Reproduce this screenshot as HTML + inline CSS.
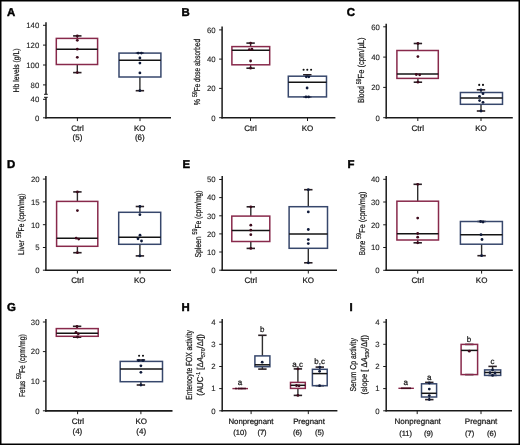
<!DOCTYPE html>
<html><head><meta charset="utf-8"><style>
html,body{margin:0;padding:0;background:#fff;}
svg{display:block;font-family:"Liberation Sans", sans-serif;will-change:transform;text-rendering:geometricPrecision;}
text{stroke:#161616;stroke-width:0.22px;}
</style></head><body>
<svg width="520" height="445" viewBox="0 0 520 445">
<rect width="520" height="445" fill="#fff"/>
<text x="7.1" y="16.1" font-size="11.4" text-anchor="start" font-weight="bold" fill="#000" style="stroke:#000;stroke-width:0.45px">A</text>
<line x1="46.0" y1="22.3" x2="46.0" y2="94.3" stroke="#1a1a1a" stroke-width="1.5"/>
<line x1="46.0" y1="97.3" x2="46.0" y2="118.55" stroke="#1a1a1a" stroke-width="1.5"/>
<line x1="44.0" y1="94.3" x2="47.8" y2="94.3" stroke="#1a1a1a" stroke-width="1.0"/>
<line x1="44.0" y1="97.3" x2="47.8" y2="97.3" stroke="#1a1a1a" stroke-width="1.0"/>
<line x1="45.25" y1="117.8" x2="171" y2="117.8" stroke="#1a1a1a" stroke-width="1.6"/>
<line x1="43.0" y1="25.3" x2="46.0" y2="25.3" stroke="#1a1a1a" stroke-width="1.0"/>
<text transform="translate(39.30,28.10)" font-size="7.8" text-anchor="end" fill="#1e1e1e" style="stroke-width:0.1px">140</text>
<line x1="43.0" y1="45.1" x2="46.0" y2="45.1" stroke="#1a1a1a" stroke-width="1.0"/>
<text transform="translate(39.30,47.90)" font-size="7.8" text-anchor="end" fill="#1e1e1e" style="stroke-width:0.1px">120</text>
<line x1="43.0" y1="65.0" x2="46.0" y2="65.0" stroke="#1a1a1a" stroke-width="1.0"/>
<text transform="translate(39.30,67.80)" font-size="7.8" text-anchor="end" fill="#1e1e1e" style="stroke-width:0.1px">100</text>
<line x1="43.0" y1="84.9" x2="46.0" y2="84.9" stroke="#1a1a1a" stroke-width="1.0"/>
<text transform="translate(39.30,87.70)" font-size="7.8" text-anchor="end" fill="#1e1e1e" style="stroke-width:0.1px">80</text>
<line x1="43.0" y1="99.3" x2="46.0" y2="99.3" stroke="#1a1a1a" stroke-width="1.0"/>
<text transform="translate(39.30,102.10)" font-size="7.8" text-anchor="end" fill="#1e1e1e" style="stroke-width:0.1px">40</text>
<line x1="43.0" y1="117.8" x2="46.0" y2="117.8" stroke="#1a1a1a" stroke-width="1.0"/>
<text transform="translate(39.30,120.60)" font-size="7.8" text-anchor="end" fill="#1e1e1e" style="stroke-width:0.1px">0</text>
<line x1="77.4" y1="117.8" x2="77.4" y2="121.1" stroke="#1a1a1a" stroke-width="1.0"/>
<line x1="140" y1="117.8" x2="140" y2="121.1" stroke="#1a1a1a" stroke-width="1.0"/>
<text transform="translate(19.0,70.45) rotate(-90)" font-size="8.3" text-anchor="middle" fill="#161616" textLength="44.0" lengthAdjust="spacingAndGlyphs">Hb levels (g/L)</text>
<line x1="77.3" y1="35.9" x2="77.3" y2="38.4" stroke="#2e2e2e" stroke-width="1.4"/>
<line x1="77.3" y1="64.5" x2="77.3" y2="72.6" stroke="#2e2e2e" stroke-width="1.4"/>
<line x1="73.1" y1="35.9" x2="81.5" y2="35.9" stroke="#2a2025" stroke-width="1.6"/>
<line x1="73.1" y1="72.6" x2="81.5" y2="72.6" stroke="#2a2025" stroke-width="1.6"/>
<rect x="56.3" y="38.4" width="41.3" height="26.1" fill="none" stroke="#88294b" stroke-width="1.5"/>
<line x1="56.3" y1="49.2" x2="97.6" y2="49.2" stroke="#141414" stroke-width="1.5"/>
<circle cx="77.3" cy="35.9" r="1.4" fill="#3e0a1c"/>
<circle cx="77.3" cy="40.3" r="1.4" fill="#3e0a1c"/>
<circle cx="77.3" cy="49.2" r="1.4" fill="#3e0a1c"/>
<circle cx="77.3" cy="57.3" r="1.4" fill="#3e0a1c"/>
<circle cx="77.3" cy="72.6" r="1.4" fill="#3e0a1c"/>
<line x1="139.9" y1="53.1" x2="139.9" y2="53.1" stroke="#2e2e2e" stroke-width="1.4"/>
<line x1="139.9" y1="77.0" x2="139.9" y2="90.7" stroke="#2e2e2e" stroke-width="1.4"/>
<line x1="135.70000000000002" y1="53.1" x2="144.1" y2="53.1" stroke="#2a2025" stroke-width="1.6"/>
<line x1="135.70000000000002" y1="90.7" x2="144.1" y2="90.7" stroke="#2a2025" stroke-width="1.6"/>
<rect x="119.0" y="53.1" width="41.900000000000006" height="23.9" fill="none" stroke="#37476c" stroke-width="1.5"/>
<line x1="119.0" y1="60.3" x2="160.9" y2="60.3" stroke="#141414" stroke-width="1.5"/>
<circle cx="138.2" cy="53.1" r="1.4" fill="#0f1a3a"/>
<circle cx="141.4" cy="53.1" r="1.4" fill="#0f1a3a"/>
<circle cx="139.9" cy="58" r="1.4" fill="#0f1a3a"/>
<circle cx="139.9" cy="63.1" r="1.4" fill="#0f1a3a"/>
<circle cx="139.9" cy="72.9" r="1.4" fill="#0f1a3a"/>
<circle cx="139.9" cy="90.7" r="1.4" fill="#0f1a3a"/>
<text x="77.5" y="131.3" font-size="8" text-anchor="middle" font-weight="normal" fill="#161616" >Ctrl</text>
<text x="77.5" y="140.3" font-size="8" text-anchor="middle" font-weight="normal" fill="#161616" >(5)</text>
<text x="139.8" y="131.3" font-size="8" text-anchor="middle" font-weight="normal" fill="#161616" >KO</text>
<text x="139.8" y="140.3" font-size="8" text-anchor="middle" font-weight="normal" fill="#161616" >(6)</text>
<text x="181.6" y="16.3" font-size="11.4" text-anchor="start" font-weight="bold" fill="#000" style="stroke:#000;stroke-width:0.45px">B</text>
<line x1="222.1" y1="26.5" x2="222.1" y2="118.45" stroke="#1a1a1a" stroke-width="1.5"/>
<line x1="221.35" y1="117.7" x2="335.4" y2="117.7" stroke="#1a1a1a" stroke-width="1.6"/>
<line x1="219.1" y1="29.9" x2="222.1" y2="29.9" stroke="#1a1a1a" stroke-width="1.0"/>
<text transform="translate(215.60,32.70)" font-size="7.8" text-anchor="end" fill="#1e1e1e" style="stroke-width:0.1px">60</text>
<line x1="219.1" y1="59.1" x2="222.1" y2="59.1" stroke="#1a1a1a" stroke-width="1.0"/>
<text transform="translate(215.60,61.90)" font-size="7.8" text-anchor="end" fill="#1e1e1e" style="stroke-width:0.1px">40</text>
<line x1="219.1" y1="88.4" x2="222.1" y2="88.4" stroke="#1a1a1a" stroke-width="1.0"/>
<text transform="translate(215.60,91.20)" font-size="7.8" text-anchor="end" fill="#1e1e1e" style="stroke-width:0.1px">20</text>
<line x1="219.1" y1="117.7" x2="222.1" y2="117.7" stroke="#1a1a1a" stroke-width="1.0"/>
<text transform="translate(215.60,120.50)" font-size="7.8" text-anchor="end" fill="#1e1e1e" style="stroke-width:0.1px">0</text>
<line x1="250.5" y1="117.7" x2="250.5" y2="121.0" stroke="#1a1a1a" stroke-width="1.0"/>
<line x1="307.5" y1="117.7" x2="307.5" y2="121.0" stroke="#1a1a1a" stroke-width="1.0"/>
<text transform="translate(200.4,105.2) rotate(-90)" font-size="8.6" text-anchor="start" fill="#161616"><tspan textLength="8.1" lengthAdjust="spacingAndGlyphs">% </tspan><tspan font-size="6.8" dy="-3.3" textLength="5.8" lengthAdjust="spacingAndGlyphs">59</tspan><tspan dy="3.3" textLength="52.3" lengthAdjust="spacingAndGlyphs">Fe dose absorbed</tspan></text>
<line x1="250.6" y1="43.1" x2="250.6" y2="46.6" stroke="#2e2e2e" stroke-width="1.4"/>
<line x1="250.6" y1="64.8" x2="250.6" y2="68.2" stroke="#2e2e2e" stroke-width="1.4"/>
<line x1="246.4" y1="43.1" x2="254.79999999999998" y2="43.1" stroke="#2a2025" stroke-width="1.6"/>
<line x1="246.4" y1="68.2" x2="254.79999999999998" y2="68.2" stroke="#2a2025" stroke-width="1.6"/>
<rect x="231.9" y="46.6" width="37.79999999999998" height="18.199999999999996" fill="none" stroke="#88294b" stroke-width="1.5"/>
<line x1="231.9" y1="50.2" x2="269.7" y2="50.2" stroke="#141414" stroke-width="1.5"/>
<circle cx="250.6" cy="43.1" r="1.4" fill="#3e0a1c"/>
<circle cx="249.3" cy="49.7" r="1.4" fill="#3e0a1c"/>
<circle cx="251.9" cy="49.2" r="1.4" fill="#3e0a1c"/>
<circle cx="250.6" cy="61" r="1.4" fill="#3e0a1c"/>
<circle cx="250.6" cy="68.2" r="1.4" fill="#3e0a1c"/>
<line x1="307.3" y1="74.8" x2="307.3" y2="76.2" stroke="#2e2e2e" stroke-width="1.4"/>
<line x1="307.3" y1="96.9" x2="307.3" y2="96.9" stroke="#2e2e2e" stroke-width="1.4"/>
<line x1="303.1" y1="74.8" x2="311.5" y2="74.8" stroke="#2a2025" stroke-width="1.6"/>
<line x1="303.1" y1="96.9" x2="311.5" y2="96.9" stroke="#2a2025" stroke-width="1.6"/>
<rect x="288.3" y="76.2" width="38.19999999999999" height="20.700000000000003" fill="none" stroke="#37476c" stroke-width="1.5"/>
<line x1="288.3" y1="82.3" x2="326.5" y2="82.3" stroke="#141414" stroke-width="1.5"/>
<circle cx="306.3" cy="76.8" r="1.4" fill="#0f1a3a"/>
<circle cx="308.8" cy="76.8" r="1.4" fill="#0f1a3a"/>
<circle cx="307.1" cy="88" r="1.4" fill="#0f1a3a"/>
<circle cx="306" cy="96.9" r="1.4" fill="#0f1a3a"/>
<circle cx="308.6" cy="96.9" r="1.4" fill="#0f1a3a"/>
<circle cx="303.6" cy="69.7" r="1.05" fill="#111"/>
<circle cx="307.3" cy="69.7" r="1.05" fill="#111"/>
<circle cx="311.1" cy="69.7" r="1.05" fill="#111"/>
<text x="250.5" y="131.3" font-size="8" text-anchor="middle" font-weight="normal" fill="#161616" >Ctrl</text>
<text x="307.5" y="131.3" font-size="8" text-anchor="middle" font-weight="normal" fill="#161616" >KO</text>
<text x="346.8" y="16.3" font-size="11.4" text-anchor="start" font-weight="bold" fill="#000" style="stroke:#000;stroke-width:0.45px">C</text>
<line x1="386.2" y1="23.8" x2="386.2" y2="118.45" stroke="#1a1a1a" stroke-width="1.5"/>
<line x1="385.45" y1="117.7" x2="512.8" y2="117.7" stroke="#1a1a1a" stroke-width="1.6"/>
<line x1="383.2" y1="26.8" x2="386.2" y2="26.8" stroke="#1a1a1a" stroke-width="1.0"/>
<text transform="translate(379.85,29.60)" font-size="7.8" text-anchor="end" fill="#1e1e1e" style="stroke-width:0.1px">60</text>
<line x1="383.2" y1="57.1" x2="386.2" y2="57.1" stroke="#1a1a1a" stroke-width="1.0"/>
<text transform="translate(379.85,59.90)" font-size="7.8" text-anchor="end" fill="#1e1e1e" style="stroke-width:0.1px">40</text>
<line x1="383.2" y1="87.4" x2="386.2" y2="87.4" stroke="#1a1a1a" stroke-width="1.0"/>
<text transform="translate(379.85,90.20)" font-size="7.8" text-anchor="end" fill="#1e1e1e" style="stroke-width:0.1px">20</text>
<line x1="383.2" y1="117.7" x2="386.2" y2="117.7" stroke="#1a1a1a" stroke-width="1.0"/>
<text transform="translate(379.85,120.50)" font-size="7.8" text-anchor="end" fill="#1e1e1e" style="stroke-width:0.1px">0</text>
<line x1="417.8" y1="117.7" x2="417.8" y2="121.0" stroke="#1a1a1a" stroke-width="1.0"/>
<line x1="481" y1="117.7" x2="481" y2="121.0" stroke="#1a1a1a" stroke-width="1.0"/>
<text transform="translate(364.2,103.0) rotate(-90)" font-size="8.8" text-anchor="start" fill="#161616"><tspan textLength="18.7" lengthAdjust="spacingAndGlyphs">Blood </tspan><tspan font-size="6.8" dy="-3.3" textLength="5.8" lengthAdjust="spacingAndGlyphs">59</tspan><tspan dy="3.3" textLength="41.0" lengthAdjust="spacingAndGlyphs">Fe (cpm/µL)</tspan></text>
<line x1="417.9" y1="43.5" x2="417.9" y2="50.5" stroke="#2e2e2e" stroke-width="1.4"/>
<line x1="417.9" y1="78.4" x2="417.9" y2="82.2" stroke="#2e2e2e" stroke-width="1.4"/>
<line x1="413.7" y1="43.5" x2="422.09999999999997" y2="43.5" stroke="#2a2025" stroke-width="1.6"/>
<line x1="413.7" y1="82.2" x2="422.09999999999997" y2="82.2" stroke="#2a2025" stroke-width="1.6"/>
<rect x="396.9" y="50.5" width="41.400000000000034" height="27.900000000000006" fill="none" stroke="#88294b" stroke-width="1.5"/>
<line x1="396.9" y1="74.1" x2="438.3" y2="74.1" stroke="#141414" stroke-width="1.5"/>
<circle cx="417.9" cy="43.5" r="1.4" fill="#3e0a1c"/>
<circle cx="417.9" cy="56.6" r="1.4" fill="#3e0a1c"/>
<circle cx="416.3" cy="74.5" r="1.4" fill="#3e0a1c"/>
<circle cx="419.7" cy="74.8" r="1.4" fill="#3e0a1c"/>
<circle cx="417.9" cy="82.2" r="1.4" fill="#3e0a1c"/>
<line x1="481.0" y1="89.8" x2="481.0" y2="92.5" stroke="#2e2e2e" stroke-width="1.4"/>
<line x1="481.0" y1="104.3" x2="481.0" y2="111.0" stroke="#2e2e2e" stroke-width="1.4"/>
<line x1="476.8" y1="89.8" x2="485.2" y2="89.8" stroke="#2a2025" stroke-width="1.6"/>
<line x1="476.8" y1="111.0" x2="485.2" y2="111.0" stroke="#2a2025" stroke-width="1.6"/>
<rect x="460.4" y="92.5" width="42.10000000000002" height="11.799999999999997" fill="none" stroke="#37476c" stroke-width="1.5"/>
<line x1="460.4" y1="98.0" x2="502.5" y2="98.0" stroke="#141414" stroke-width="1.5"/>
<circle cx="483" cy="93.7" r="1.4" fill="#0f1a3a"/>
<circle cx="479.5" cy="96.3" r="1.4" fill="#0f1a3a"/>
<circle cx="479.6" cy="100.6" r="1.4" fill="#0f1a3a"/>
<circle cx="483" cy="102.3" r="1.4" fill="#0f1a3a"/>
<circle cx="481" cy="89.8" r="1.4" fill="#0f1a3a"/>
<circle cx="481" cy="111" r="1.4" fill="#0f1a3a"/>
<circle cx="479.2" cy="84.9" r="1.05" fill="#111"/>
<circle cx="483.0" cy="84.9" r="1.05" fill="#111"/>
<text x="417.8" y="131.3" font-size="8" text-anchor="middle" font-weight="normal" fill="#161616" >Ctrl</text>
<text x="481" y="131.3" font-size="8" text-anchor="middle" font-weight="normal" fill="#161616" >KO</text>
<text x="7.1" y="168.2" font-size="11.4" text-anchor="start" font-weight="bold" fill="#000" style="stroke:#000;stroke-width:0.45px">D</text>
<line x1="45.9" y1="175.9" x2="45.9" y2="270.95" stroke="#1a1a1a" stroke-width="1.5"/>
<line x1="45.15" y1="270.2" x2="171" y2="270.2" stroke="#1a1a1a" stroke-width="1.6"/>
<line x1="42.9" y1="179.1" x2="45.9" y2="179.1" stroke="#1a1a1a" stroke-width="1.0"/>
<text transform="translate(39.70,181.90)" font-size="7.8" text-anchor="end" fill="#1e1e1e" style="stroke-width:0.1px">20</text>
<line x1="42.9" y1="201.9" x2="45.9" y2="201.9" stroke="#1a1a1a" stroke-width="1.0"/>
<text transform="translate(39.70,204.70)" font-size="7.8" text-anchor="end" fill="#1e1e1e" style="stroke-width:0.1px">15</text>
<line x1="42.9" y1="224.7" x2="45.9" y2="224.7" stroke="#1a1a1a" stroke-width="1.0"/>
<text transform="translate(39.70,227.50)" font-size="7.8" text-anchor="end" fill="#1e1e1e" style="stroke-width:0.1px">10</text>
<line x1="42.9" y1="247.5" x2="45.9" y2="247.5" stroke="#1a1a1a" stroke-width="1.0"/>
<text transform="translate(39.70,250.30)" font-size="7.8" text-anchor="end" fill="#1e1e1e" style="stroke-width:0.1px">5</text>
<line x1="42.9" y1="270.2" x2="45.9" y2="270.2" stroke="#1a1a1a" stroke-width="1.0"/>
<text transform="translate(39.70,273.00)" font-size="7.8" text-anchor="end" fill="#1e1e1e" style="stroke-width:0.1px">0</text>
<line x1="77.4" y1="270.2" x2="77.4" y2="273.5" stroke="#1a1a1a" stroke-width="1.0"/>
<line x1="140" y1="270.2" x2="140" y2="273.5" stroke="#1a1a1a" stroke-width="1.0"/>
<text transform="translate(24.1,254.9) rotate(-90)" font-size="8.4" text-anchor="start" fill="#161616"><tspan textLength="16.9" lengthAdjust="spacingAndGlyphs">Liver </tspan><tspan font-size="6.8" dy="-3.3" textLength="6.6" lengthAdjust="spacingAndGlyphs">59</tspan><tspan dy="3.3" textLength="37.9" lengthAdjust="spacingAndGlyphs">Fe (cpm/mg)</tspan></text>
<line x1="77.4" y1="191.9" x2="77.4" y2="201.4" stroke="#2e2e2e" stroke-width="1.4"/>
<line x1="77.4" y1="246.3" x2="77.4" y2="252.7" stroke="#2e2e2e" stroke-width="1.4"/>
<line x1="73.2" y1="191.9" x2="81.60000000000001" y2="191.9" stroke="#2a2025" stroke-width="1.6"/>
<line x1="73.2" y1="252.7" x2="81.60000000000001" y2="252.7" stroke="#2a2025" stroke-width="1.6"/>
<rect x="56.6" y="201.4" width="41.199999999999996" height="44.900000000000006" fill="none" stroke="#88294b" stroke-width="1.5"/>
<line x1="56.6" y1="238.2" x2="97.8" y2="238.2" stroke="#141414" stroke-width="1.5"/>
<circle cx="77.4" cy="191.9" r="1.4" fill="#3e0a1c"/>
<circle cx="77.4" cy="210.6" r="1.4" fill="#3e0a1c"/>
<circle cx="76.2" cy="238.2" r="1.4" fill="#3e0a1c"/>
<circle cx="78.7" cy="239.1" r="1.4" fill="#3e0a1c"/>
<circle cx="77.4" cy="252.7" r="1.4" fill="#3e0a1c"/>
<line x1="139.9" y1="206.5" x2="139.9" y2="212.3" stroke="#2e2e2e" stroke-width="1.4"/>
<line x1="139.9" y1="244.3" x2="139.9" y2="255.9" stroke="#2e2e2e" stroke-width="1.4"/>
<line x1="135.70000000000002" y1="206.5" x2="144.1" y2="206.5" stroke="#2a2025" stroke-width="1.6"/>
<line x1="135.70000000000002" y1="255.9" x2="144.1" y2="255.9" stroke="#2a2025" stroke-width="1.6"/>
<rect x="118.7" y="212.3" width="41.999999999999986" height="32.0" fill="none" stroke="#37476c" stroke-width="1.5"/>
<line x1="118.7" y1="237.2" x2="160.7" y2="237.2" stroke="#141414" stroke-width="1.5"/>
<circle cx="139.9" cy="206.5" r="1.4" fill="#0f1a3a"/>
<circle cx="139.9" cy="214.7" r="1.4" fill="#0f1a3a"/>
<circle cx="140" cy="235.2" r="1.4" fill="#0f1a3a"/>
<circle cx="138" cy="238.8" r="1.4" fill="#0f1a3a"/>
<circle cx="141.5" cy="241" r="1.4" fill="#0f1a3a"/>
<circle cx="139.9" cy="255.9" r="1.4" fill="#0f1a3a"/>
<text x="77.5" y="282.9" font-size="8" text-anchor="middle" font-weight="normal" fill="#161616" >Ctrl</text>
<text x="139.8" y="282.9" font-size="8" text-anchor="middle" font-weight="normal" fill="#161616" >KO</text>
<text x="182.4" y="168.2" font-size="11.4" text-anchor="start" font-weight="bold" fill="#000" style="stroke:#000;stroke-width:0.45px">E</text>
<line x1="222.2" y1="176.0" x2="222.2" y2="270.95" stroke="#1a1a1a" stroke-width="1.5"/>
<line x1="221.45" y1="270.2" x2="337.0" y2="270.2" stroke="#1a1a1a" stroke-width="1.6"/>
<line x1="219.2" y1="179.5" x2="222.2" y2="179.5" stroke="#1a1a1a" stroke-width="1.0"/>
<text transform="translate(215.70,182.30)" font-size="7.8" text-anchor="end" fill="#1e1e1e" style="stroke-width:0.1px">50</text>
<line x1="219.2" y1="197.6" x2="222.2" y2="197.6" stroke="#1a1a1a" stroke-width="1.0"/>
<text transform="translate(215.70,200.40)" font-size="7.8" text-anchor="end" fill="#1e1e1e" style="stroke-width:0.1px">40</text>
<line x1="219.2" y1="215.8" x2="222.2" y2="215.8" stroke="#1a1a1a" stroke-width="1.0"/>
<text transform="translate(215.70,218.60)" font-size="7.8" text-anchor="end" fill="#1e1e1e" style="stroke-width:0.1px">30</text>
<line x1="219.2" y1="233.9" x2="222.2" y2="233.9" stroke="#1a1a1a" stroke-width="1.0"/>
<text transform="translate(215.70,236.70)" font-size="7.8" text-anchor="end" fill="#1e1e1e" style="stroke-width:0.1px">20</text>
<line x1="219.2" y1="252.0" x2="222.2" y2="252.0" stroke="#1a1a1a" stroke-width="1.0"/>
<text transform="translate(215.70,254.80)" font-size="7.8" text-anchor="end" fill="#1e1e1e" style="stroke-width:0.1px">10</text>
<line x1="219.2" y1="270.2" x2="222.2" y2="270.2" stroke="#1a1a1a" stroke-width="1.0"/>
<text transform="translate(215.70,273.00)" font-size="7.8" text-anchor="end" fill="#1e1e1e" style="stroke-width:0.1px">0</text>
<line x1="250.8" y1="270.2" x2="250.8" y2="273.5" stroke="#1a1a1a" stroke-width="1.0"/>
<line x1="308.3" y1="270.2" x2="308.3" y2="273.5" stroke="#1a1a1a" stroke-width="1.0"/>
<text transform="translate(200.5,257.59999999999997) rotate(-90)" font-size="8.6" text-anchor="start" fill="#161616"><tspan textLength="23.0" lengthAdjust="spacingAndGlyphs">Spleen </tspan><tspan font-size="6.8" dy="-3.3" textLength="6.0" lengthAdjust="spacingAndGlyphs">59</tspan><tspan dy="3.3" textLength="38.1" lengthAdjust="spacingAndGlyphs">Fe (cpm/mg)</tspan></text>
<line x1="250.8" y1="206.8" x2="250.8" y2="216.1" stroke="#2e2e2e" stroke-width="1.4"/>
<line x1="250.8" y1="241.5" x2="250.8" y2="248.4" stroke="#2e2e2e" stroke-width="1.4"/>
<line x1="246.60000000000002" y1="206.8" x2="255.0" y2="206.8" stroke="#2a2025" stroke-width="1.6"/>
<line x1="246.60000000000002" y1="248.4" x2="255.0" y2="248.4" stroke="#2a2025" stroke-width="1.6"/>
<rect x="231.8" y="216.1" width="38.0" height="25.400000000000006" fill="none" stroke="#88294b" stroke-width="1.5"/>
<line x1="231.8" y1="230.4" x2="269.8" y2="230.4" stroke="#141414" stroke-width="1.5"/>
<circle cx="250.8" cy="206.8" r="1.4" fill="#3e0a1c"/>
<circle cx="250.8" cy="225.2" r="1.4" fill="#3e0a1c"/>
<circle cx="250.8" cy="230.2" r="1.4" fill="#3e0a1c"/>
<circle cx="250.8" cy="234.7" r="1.4" fill="#3e0a1c"/>
<circle cx="250.8" cy="248.4" r="1.4" fill="#3e0a1c"/>
<line x1="308.3" y1="189.7" x2="308.3" y2="206.7" stroke="#2e2e2e" stroke-width="1.4"/>
<line x1="308.3" y1="248.3" x2="308.3" y2="262.8" stroke="#2e2e2e" stroke-width="1.4"/>
<line x1="304.1" y1="189.7" x2="312.5" y2="189.7" stroke="#2a2025" stroke-width="1.6"/>
<line x1="304.1" y1="262.8" x2="312.5" y2="262.8" stroke="#2a2025" stroke-width="1.6"/>
<rect x="289.1" y="206.7" width="38.39999999999998" height="41.60000000000002" fill="none" stroke="#37476c" stroke-width="1.5"/>
<line x1="289.1" y1="234.1" x2="327.5" y2="234.1" stroke="#141414" stroke-width="1.5"/>
<circle cx="308.3" cy="189.7" r="1.4" fill="#0f1a3a"/>
<circle cx="308.3" cy="211.9" r="1.4" fill="#0f1a3a"/>
<circle cx="308.3" cy="229.5" r="1.4" fill="#0f1a3a"/>
<circle cx="308.3" cy="239.6" r="1.4" fill="#0f1a3a"/>
<circle cx="308.3" cy="243.6" r="1.4" fill="#0f1a3a"/>
<circle cx="308.3" cy="262.8" r="1.4" fill="#0f1a3a"/>
<text x="250.8" y="282.9" font-size="8" text-anchor="middle" font-weight="normal" fill="#161616" >Ctrl</text>
<text x="308.3" y="282.9" font-size="8" text-anchor="middle" font-weight="normal" fill="#161616" >KO</text>
<text x="347.4" y="168.2" font-size="11.4" text-anchor="start" font-weight="bold" fill="#000" style="stroke:#000;stroke-width:0.45px">F</text>
<line x1="386.2" y1="176.0" x2="386.2" y2="271.05" stroke="#1a1a1a" stroke-width="1.5"/>
<line x1="385.45" y1="270.3" x2="512.8" y2="270.3" stroke="#1a1a1a" stroke-width="1.6"/>
<line x1="383.2" y1="179.3" x2="386.2" y2="179.3" stroke="#1a1a1a" stroke-width="1.0"/>
<text transform="translate(379.65,182.10)" font-size="7.8" text-anchor="end" fill="#1e1e1e" style="stroke-width:0.1px">40</text>
<line x1="383.2" y1="202.0" x2="386.2" y2="202.0" stroke="#1a1a1a" stroke-width="1.0"/>
<text transform="translate(379.65,204.80)" font-size="7.8" text-anchor="end" fill="#1e1e1e" style="stroke-width:0.1px">30</text>
<line x1="383.2" y1="224.8" x2="386.2" y2="224.8" stroke="#1a1a1a" stroke-width="1.0"/>
<text transform="translate(379.65,227.60)" font-size="7.8" text-anchor="end" fill="#1e1e1e" style="stroke-width:0.1px">20</text>
<line x1="383.2" y1="247.5" x2="386.2" y2="247.5" stroke="#1a1a1a" stroke-width="1.0"/>
<text transform="translate(379.65,250.30)" font-size="7.8" text-anchor="end" fill="#1e1e1e" style="stroke-width:0.1px">10</text>
<line x1="383.2" y1="270.3" x2="386.2" y2="270.3" stroke="#1a1a1a" stroke-width="1.0"/>
<text transform="translate(379.65,273.10)" font-size="7.8" text-anchor="end" fill="#1e1e1e" style="stroke-width:0.1px">0</text>
<line x1="417.7" y1="270.3" x2="417.7" y2="273.6" stroke="#1a1a1a" stroke-width="1.0"/>
<line x1="481.6" y1="270.3" x2="481.6" y2="273.6" stroke="#1a1a1a" stroke-width="1.0"/>
<text transform="translate(364.5,255.20000000000002) rotate(-90)" font-size="8.6" text-anchor="start" fill="#161616"><tspan textLength="16.2" lengthAdjust="spacingAndGlyphs">Bone </tspan><tspan font-size="6.8" dy="-3.3" textLength="6.2" lengthAdjust="spacingAndGlyphs">59</tspan><tspan dy="3.3" textLength="41.2" lengthAdjust="spacingAndGlyphs">Fe (cpm/mg)</tspan></text>
<line x1="417.7" y1="184.3" x2="417.7" y2="201.2" stroke="#2e2e2e" stroke-width="1.4"/>
<line x1="417.7" y1="240.0" x2="417.7" y2="242.8" stroke="#2e2e2e" stroke-width="1.4"/>
<line x1="413.5" y1="184.3" x2="421.9" y2="184.3" stroke="#2a2025" stroke-width="1.6"/>
<line x1="413.5" y1="242.8" x2="421.9" y2="242.8" stroke="#2a2025" stroke-width="1.6"/>
<rect x="396.9" y="201.2" width="41.60000000000002" height="38.80000000000001" fill="none" stroke="#88294b" stroke-width="1.5"/>
<line x1="396.9" y1="233.8" x2="438.5" y2="233.8" stroke="#141414" stroke-width="1.5"/>
<circle cx="417.7" cy="184.3" r="1.4" fill="#3e0a1c"/>
<circle cx="417.7" cy="218.1" r="1.4" fill="#3e0a1c"/>
<circle cx="417.7" cy="233.5" r="1.4" fill="#3e0a1c"/>
<circle cx="417.7" cy="237.2" r="1.4" fill="#3e0a1c"/>
<circle cx="417.7" cy="242.8" r="1.4" fill="#3e0a1c"/>
<line x1="481.6" y1="221.5" x2="481.6" y2="221.5" stroke="#2e2e2e" stroke-width="1.4"/>
<line x1="481.6" y1="244.2" x2="481.6" y2="255.7" stroke="#2e2e2e" stroke-width="1.4"/>
<line x1="477.40000000000003" y1="221.5" x2="485.8" y2="221.5" stroke="#2a2025" stroke-width="1.6"/>
<line x1="477.40000000000003" y1="255.7" x2="485.8" y2="255.7" stroke="#2a2025" stroke-width="1.6"/>
<rect x="460.4" y="221.5" width="42.0" height="22.69999999999999" fill="none" stroke="#37476c" stroke-width="1.5"/>
<line x1="460.4" y1="234.7" x2="502.4" y2="234.7" stroke="#141414" stroke-width="1.5"/>
<circle cx="480.6" cy="221.5" r="1.4" fill="#0f1a3a"/>
<circle cx="483" cy="222" r="1.4" fill="#0f1a3a"/>
<circle cx="481" cy="234.7" r="1.4" fill="#0f1a3a"/>
<circle cx="482" cy="239.5" r="1.4" fill="#0f1a3a"/>
<circle cx="481.6" cy="255.7" r="1.4" fill="#0f1a3a"/>
<text x="417.7" y="282.9" font-size="8" text-anchor="middle" font-weight="normal" fill="#161616" >Ctrl</text>
<text x="481.6" y="282.9" font-size="8" text-anchor="middle" font-weight="normal" fill="#161616" >KO</text>
<text x="7.1" y="311.2" font-size="11.4" text-anchor="start" font-weight="bold" fill="#000" style="stroke:#000;stroke-width:0.45px">G</text>
<line x1="45.9" y1="318.9" x2="45.9" y2="411.65" stroke="#1a1a1a" stroke-width="1.5"/>
<line x1="45.15" y1="410.9" x2="172.5" y2="410.9" stroke="#1a1a1a" stroke-width="1.6"/>
<line x1="42.9" y1="322.0" x2="45.9" y2="322.0" stroke="#1a1a1a" stroke-width="1.0"/>
<text transform="translate(39.55,324.80)" font-size="7.8" text-anchor="end" fill="#1e1e1e" style="stroke-width:0.1px">30</text>
<line x1="42.9" y1="351.6" x2="45.9" y2="351.6" stroke="#1a1a1a" stroke-width="1.0"/>
<text transform="translate(39.55,354.40)" font-size="7.8" text-anchor="end" fill="#1e1e1e" style="stroke-width:0.1px">20</text>
<line x1="42.9" y1="381.2" x2="45.9" y2="381.2" stroke="#1a1a1a" stroke-width="1.0"/>
<text transform="translate(39.55,384.00)" font-size="7.8" text-anchor="end" fill="#1e1e1e" style="stroke-width:0.1px">10</text>
<line x1="42.9" y1="410.8" x2="45.9" y2="410.8" stroke="#1a1a1a" stroke-width="1.0"/>
<text transform="translate(39.55,413.60)" font-size="7.8" text-anchor="end" fill="#1e1e1e" style="stroke-width:0.1px">0</text>
<line x1="77.6" y1="410.9" x2="77.6" y2="414.2" stroke="#1a1a1a" stroke-width="1.0"/>
<line x1="140.9" y1="410.9" x2="140.9" y2="414.2" stroke="#1a1a1a" stroke-width="1.0"/>
<text transform="translate(24.6,397.0) rotate(-90)" font-size="8.6" text-anchor="start" fill="#161616"><tspan textLength="17.9" lengthAdjust="spacingAndGlyphs">Fetus </tspan><tspan font-size="6.8" dy="-3.3" textLength="6.0" lengthAdjust="spacingAndGlyphs">59</tspan><tspan dy="3.3" textLength="38.9" lengthAdjust="spacingAndGlyphs">Fe (cpm/mg)</tspan></text>
<line x1="77.1" y1="326.3" x2="77.1" y2="328.6" stroke="#2e2e2e" stroke-width="1.4"/>
<line x1="77.1" y1="336.3" x2="77.1" y2="337.2" stroke="#2e2e2e" stroke-width="1.4"/>
<line x1="72.89999999999999" y1="326.3" x2="81.3" y2="326.3" stroke="#2a2025" stroke-width="1.6"/>
<line x1="72.89999999999999" y1="337.2" x2="81.3" y2="337.2" stroke="#2a2025" stroke-width="1.6"/>
<rect x="56.3" y="328.6" width="41.900000000000006" height="7.699999999999989" fill="none" stroke="#88294b" stroke-width="1.5"/>
<line x1="56.3" y1="333.2" x2="98.2" y2="333.2" stroke="#141414" stroke-width="1.5"/>
<circle cx="77" cy="326.5" r="1.4" fill="#3e0a1c"/>
<circle cx="76" cy="332.3" r="1.4" fill="#3e0a1c"/>
<circle cx="78.3" cy="333.8" r="1.4" fill="#3e0a1c"/>
<circle cx="77.5" cy="337" r="1.4" fill="#3e0a1c"/>
<line x1="140.9" y1="360.0" x2="140.9" y2="361.4" stroke="#2e2e2e" stroke-width="1.4"/>
<line x1="140.9" y1="381.7" x2="140.9" y2="385.0" stroke="#2e2e2e" stroke-width="1.4"/>
<line x1="136.70000000000002" y1="360.0" x2="145.1" y2="360.0" stroke="#2a2025" stroke-width="1.6"/>
<line x1="136.70000000000002" y1="385.0" x2="145.1" y2="385.0" stroke="#2a2025" stroke-width="1.6"/>
<rect x="120.2" y="361.4" width="42.3" height="20.30000000000001" fill="none" stroke="#37476c" stroke-width="1.5"/>
<line x1="120.2" y1="368.9" x2="162.5" y2="368.9" stroke="#141414" stroke-width="1.5"/>
<circle cx="138.6" cy="360.5" r="1.4" fill="#0f1a3a"/>
<circle cx="143" cy="360.5" r="1.4" fill="#0f1a3a"/>
<circle cx="140.9" cy="365.8" r="1.4" fill="#0f1a3a"/>
<circle cx="140.9" cy="372.3" r="1.4" fill="#0f1a3a"/>
<circle cx="140.9" cy="385" r="1.4" fill="#0f1a3a"/>
<circle cx="139.1" cy="355.8" r="1.05" fill="#111"/>
<circle cx="143.0" cy="355.8" r="1.05" fill="#111"/>
<text x="77.9" y="424.2" font-size="8" text-anchor="middle" font-weight="normal" fill="#161616" >Ctrl</text>
<text x="77.4" y="433.5" font-size="8" text-anchor="middle" font-weight="normal" fill="#161616" >(4)</text>
<text x="141.2" y="424.2" font-size="8" text-anchor="middle" font-weight="normal" fill="#161616" >KO</text>
<text x="141.2" y="433.5" font-size="8" text-anchor="middle" font-weight="normal" fill="#161616" >(4)</text>
<text x="181.5" y="311.3" font-size="11.4" text-anchor="start" font-weight="bold" fill="#000" style="stroke:#000;stroke-width:0.45px">H</text>
<line x1="222.2" y1="319.0" x2="222.2" y2="411.55" stroke="#1a1a1a" stroke-width="1.5"/>
<line x1="221.45" y1="410.8" x2="337.4" y2="410.8" stroke="#1a1a1a" stroke-width="1.6"/>
<line x1="219.2" y1="322.1" x2="222.2" y2="322.1" stroke="#1a1a1a" stroke-width="1.0"/>
<text transform="translate(215.70,324.90)" font-size="7.8" text-anchor="end" fill="#1e1e1e" style="stroke-width:0.1px">4</text>
<line x1="219.2" y1="344.3" x2="222.2" y2="344.3" stroke="#1a1a1a" stroke-width="1.0"/>
<text transform="translate(215.70,347.10)" font-size="7.8" text-anchor="end" fill="#1e1e1e" style="stroke-width:0.1px">3</text>
<line x1="219.2" y1="366.5" x2="222.2" y2="366.5" stroke="#1a1a1a" stroke-width="1.0"/>
<text transform="translate(215.70,369.30)" font-size="7.8" text-anchor="end" fill="#1e1e1e" style="stroke-width:0.1px">2</text>
<line x1="219.2" y1="388.6" x2="222.2" y2="388.6" stroke="#1a1a1a" stroke-width="1.0"/>
<text transform="translate(215.70,391.40)" font-size="7.8" text-anchor="end" fill="#1e1e1e" style="stroke-width:0.1px">1</text>
<line x1="219.2" y1="410.8" x2="222.2" y2="410.8" stroke="#1a1a1a" stroke-width="1.0"/>
<text transform="translate(215.70,413.60)" font-size="7.8" text-anchor="end" fill="#1e1e1e" style="stroke-width:0.1px">0</text>
<line x1="251.1" y1="410.8" x2="251.1" y2="414.1" stroke="#1a1a1a" stroke-width="1.0"/>
<line x1="308.3" y1="410.8" x2="308.3" y2="414.1" stroke="#1a1a1a" stroke-width="1.0"/>
<text transform="translate(192.0,364.9) rotate(-90)" font-size="8.8" text-anchor="middle" fill="#161616" textLength="69.5" lengthAdjust="spacingAndGlyphs">Enterocyte FOX activity</text>
<text transform="translate(203.4,364.9) rotate(-90)" font-size="8.6" text-anchor="middle" fill="#161616" textLength="61.7" lengthAdjust="spacingAndGlyphs">(AUC<tspan font-size="5.6" dy="-3.4">-1</tspan><tspan dy="3.4"> [</tspan>Δ<tspan font-style="italic">A</tspan><tspan font-size="5.6" dy="1.8">570</tspan><tspan dy="-1.8">/</tspan>Δ<tspan font-style="italic">t</tspan>])</text>
<line x1="232.4" y1="388.6" x2="248.0" y2="388.6" stroke="#88294b" stroke-width="1.4"/>
<circle cx="236" cy="388.6" r="1.0" fill="#3e0a1c"/>
<circle cx="238.5" cy="388.6" r="1.0" fill="#3e0a1c"/>
<circle cx="240" cy="388.6" r="1.0" fill="#3e0a1c"/>
<circle cx="241.5" cy="388.6" r="1.0" fill="#3e0a1c"/>
<circle cx="243" cy="388.6" r="1.0" fill="#3e0a1c"/>
<circle cx="245" cy="388.6" r="1.0" fill="#3e0a1c"/>
<text x="240.0" y="385.3" font-size="8" text-anchor="middle" font-weight="normal" fill="#161616" >a</text>
<line x1="262.4" y1="335.3" x2="262.4" y2="355.9" stroke="#2e2e2e" stroke-width="1.4"/>
<line x1="262.4" y1="366.7" x2="262.4" y2="369.1" stroke="#2e2e2e" stroke-width="1.4"/>
<line x1="258.2" y1="335.3" x2="266.59999999999997" y2="335.3" stroke="#2a2025" stroke-width="1.6"/>
<line x1="258.2" y1="369.1" x2="266.59999999999997" y2="369.1" stroke="#2a2025" stroke-width="1.6"/>
<rect x="254.9" y="355.9" width="14.999999999999972" height="10.800000000000011" fill="none" stroke="#37476c" stroke-width="1.5"/>
<line x1="254.9" y1="364.8" x2="269.9" y2="364.8" stroke="#141414" stroke-width="1.5"/>
<circle cx="262.2" cy="362.2" r="1.4" fill="#0f1a3a"/>
<text x="262.3" y="331.6" font-size="8" text-anchor="middle" font-weight="normal" fill="#161616" >b</text>
<line x1="297.9" y1="368.9" x2="297.9" y2="382.4" stroke="#2e2e2e" stroke-width="1.4"/>
<line x1="297.9" y1="388.4" x2="297.9" y2="395.4" stroke="#2e2e2e" stroke-width="1.4"/>
<line x1="293.7" y1="368.9" x2="302.09999999999997" y2="368.9" stroke="#2a2025" stroke-width="1.6"/>
<line x1="293.7" y1="395.4" x2="302.09999999999997" y2="395.4" stroke="#2a2025" stroke-width="1.6"/>
<rect x="290.5" y="382.4" width="14.800000000000011" height="6.0" fill="none" stroke="#88294b" stroke-width="1.5"/>
<line x1="290.5" y1="385.3" x2="305.3" y2="385.3" stroke="#141414" stroke-width="1.5"/>
<circle cx="297.9" cy="368.9" r="1.4" fill="#3e0a1c"/>
<circle cx="297.9" cy="395.4" r="1.4" fill="#3e0a1c"/>
<circle cx="296.5" cy="385.5" r="1.4" fill="#3e0a1c"/>
<circle cx="299" cy="385.8" r="1.4" fill="#3e0a1c"/>
<text x="297.6" y="366.6" font-size="8" text-anchor="middle" font-weight="normal" fill="#161616" >a,c</text>
<line x1="319.8" y1="367.1" x2="319.8" y2="369.3" stroke="#2e2e2e" stroke-width="1.4"/>
<line x1="319.8" y1="385.7" x2="319.8" y2="385.7" stroke="#2e2e2e" stroke-width="1.4"/>
<line x1="315.6" y1="367.1" x2="324.0" y2="367.1" stroke="#2a2025" stroke-width="1.6"/>
<line x1="315.6" y1="385.7" x2="324.0" y2="385.7" stroke="#2a2025" stroke-width="1.6"/>
<rect x="312.4" y="369.3" width="14.800000000000011" height="16.399999999999977" fill="none" stroke="#37476c" stroke-width="1.5"/>
<line x1="312.4" y1="373.6" x2="327.2" y2="373.6" stroke="#141414" stroke-width="1.5"/>
<circle cx="319.6" cy="371.3" r="1.4" fill="#0f1a3a"/>
<circle cx="319.6" cy="385.7" r="1.4" fill="#0f1a3a"/>
<circle cx="319.8" cy="367.1" r="1.4" fill="#0f1a3a"/>
<text x="319.6" y="364.3" font-size="8" text-anchor="middle" font-weight="normal" fill="#161616" >b,c</text>
<text x="251.0" y="424.0" font-size="7.8" text-anchor="middle" font-weight="normal" fill="#161616" >Nonpregnant</text>
<text x="309.0" y="424.0" font-size="7.8" text-anchor="middle" font-weight="normal" fill="#161616" >Pregnant</text>
<text x="240" y="435.2" font-size="7.5" text-anchor="middle" font-weight="normal" fill="#161616" >(10)</text>
<text x="262" y="435.2" font-size="7.5" text-anchor="middle" font-weight="normal" fill="#161616" >(7)</text>
<text x="297.5" y="435.2" font-size="7.5" text-anchor="middle" font-weight="normal" fill="#161616" >(6)</text>
<text x="319.5" y="435.2" font-size="7.5" text-anchor="middle" font-weight="normal" fill="#161616" >(5)</text>
<text x="349.4" y="311.3" font-size="11.4" text-anchor="start" font-weight="bold" fill="#000" style="stroke:#000;stroke-width:0.45px">I</text>
<line x1="386.2" y1="319.0" x2="386.2" y2="411.55" stroke="#1a1a1a" stroke-width="1.5"/>
<line x1="385.45" y1="410.8" x2="512.0" y2="410.8" stroke="#1a1a1a" stroke-width="1.6"/>
<line x1="383.2" y1="322.1" x2="386.2" y2="322.1" stroke="#1a1a1a" stroke-width="1.0"/>
<text transform="translate(379.70,324.90)" font-size="7.8" text-anchor="end" fill="#1e1e1e" style="stroke-width:0.1px">4</text>
<line x1="383.2" y1="344.3" x2="386.2" y2="344.3" stroke="#1a1a1a" stroke-width="1.0"/>
<text transform="translate(379.70,347.10)" font-size="7.8" text-anchor="end" fill="#1e1e1e" style="stroke-width:0.1px">3</text>
<line x1="383.2" y1="366.5" x2="386.2" y2="366.5" stroke="#1a1a1a" stroke-width="1.0"/>
<text transform="translate(379.70,369.30)" font-size="7.8" text-anchor="end" fill="#1e1e1e" style="stroke-width:0.1px">2</text>
<line x1="383.2" y1="388.6" x2="386.2" y2="388.6" stroke="#1a1a1a" stroke-width="1.0"/>
<text transform="translate(379.70,391.40)" font-size="7.8" text-anchor="end" fill="#1e1e1e" style="stroke-width:0.1px">1</text>
<line x1="383.2" y1="410.8" x2="386.2" y2="410.8" stroke="#1a1a1a" stroke-width="1.0"/>
<text transform="translate(379.70,413.60)" font-size="7.8" text-anchor="end" fill="#1e1e1e" style="stroke-width:0.1px">0</text>
<line x1="417.2" y1="410.8" x2="417.2" y2="414.1" stroke="#1a1a1a" stroke-width="1.0"/>
<line x1="481" y1="410.8" x2="481" y2="414.1" stroke="#1a1a1a" stroke-width="1.0"/>
<text transform="translate(355.8,364.9) rotate(-90)" font-size="8.6" text-anchor="middle" fill="#161616" textLength="53.4" lengthAdjust="spacingAndGlyphs">Serum Cp activity</text>
<text transform="translate(367.2,364.8) rotate(-90)" font-size="8.4" text-anchor="middle" fill="#161616" textLength="59.5" lengthAdjust="spacingAndGlyphs">(slope [ Δ<tspan font-style="italic">A</tspan><tspan font-size="5.6" dy="1.8">530</tspan><tspan dy="-1.8">/</tspan>Δ<tspan font-style="italic">t</tspan>])</text>
<line x1="398.4" y1="388.3" x2="413.9" y2="388.3" stroke="#88294b" stroke-width="1.4"/>
<circle cx="402" cy="388.3" r="1.0" fill="#3e0a1c"/>
<circle cx="404" cy="388.3" r="1.0" fill="#3e0a1c"/>
<circle cx="406" cy="388.3" r="1.0" fill="#3e0a1c"/>
<circle cx="408" cy="388.3" r="1.0" fill="#3e0a1c"/>
<circle cx="410" cy="388.3" r="1.0" fill="#3e0a1c"/>
<text x="405.7" y="385.2" font-size="8" text-anchor="middle" font-weight="normal" fill="#161616" >a</text>
<line x1="429.3" y1="382.4" x2="429.3" y2="383.8" stroke="#2e2e2e" stroke-width="1.4"/>
<line x1="429.3" y1="397.0" x2="429.3" y2="399.6" stroke="#2e2e2e" stroke-width="1.4"/>
<line x1="425.1" y1="382.4" x2="433.5" y2="382.4" stroke="#2a2025" stroke-width="1.6"/>
<line x1="425.1" y1="399.6" x2="433.5" y2="399.6" stroke="#2a2025" stroke-width="1.6"/>
<rect x="421.5" y="383.8" width="15.100000000000023" height="13.199999999999989" fill="none" stroke="#37476c" stroke-width="1.5"/>
<line x1="421.5" y1="393.3" x2="436.6" y2="393.3" stroke="#141414" stroke-width="1.5"/>
<circle cx="429.3" cy="383" r="1.4" fill="#0f1a3a"/>
<circle cx="429.3" cy="389.1" r="1.4" fill="#0f1a3a"/>
<circle cx="429.3" cy="395.6" r="1.4" fill="#0f1a3a"/>
<circle cx="429.3" cy="399.6" r="1.4" fill="#0f1a3a"/>
<text x="429.3" y="380.2" font-size="8" text-anchor="middle" font-weight="normal" fill="#161616" >a</text>
<line x1="469.3" y1="344.4" x2="469.3" y2="344.4" stroke="#2e2e2e" stroke-width="1.4"/>
<line x1="469.3" y1="374.6" x2="469.3" y2="374.6" stroke="#2e2e2e" stroke-width="1.4"/>
<line x1="465.1" y1="344.4" x2="473.5" y2="344.4" stroke="#2a2025" stroke-width="1.6"/>
<line x1="465.1" y1="374.6" x2="473.5" y2="374.6" stroke="#2a2025" stroke-width="1.6"/>
<rect x="461.1" y="344.4" width="16.5" height="30.200000000000045" fill="none" stroke="#88294b" stroke-width="1.5"/>
<line x1="461.1" y1="350.4" x2="477.6" y2="350.4" stroke="#141414" stroke-width="1.5"/>
<circle cx="469.3" cy="351.2" r="1.4" fill="#3e0a1c"/>
<text x="469.1" y="342.0" font-size="8" text-anchor="middle" font-weight="normal" fill="#161616" >b</text>
<line x1="492.6" y1="366.4" x2="492.6" y2="369.9" stroke="#2e2e2e" stroke-width="1.4"/>
<line x1="492.6" y1="375.4" x2="492.6" y2="375.4" stroke="#2e2e2e" stroke-width="1.4"/>
<line x1="488.40000000000003" y1="366.4" x2="496.8" y2="366.4" stroke="#2a2025" stroke-width="1.6"/>
<line x1="488.40000000000003" y1="375.4" x2="496.8" y2="375.4" stroke="#2a2025" stroke-width="1.6"/>
<rect x="484.6" y="369.9" width="16.099999999999966" height="5.5" fill="none" stroke="#37476c" stroke-width="1.5"/>
<line x1="484.6" y1="372.5" x2="500.7" y2="372.5" stroke="#141414" stroke-width="1.5"/>
<circle cx="492.6" cy="369.9" r="1.4" fill="#0f1a3a"/>
<circle cx="490" cy="372.7" r="1.4" fill="#0f1a3a"/>
<circle cx="495" cy="373" r="1.4" fill="#0f1a3a"/>
<circle cx="492.6" cy="375.4" r="1.4" fill="#0f1a3a"/>
<text x="492.6" y="364.3" font-size="8" text-anchor="middle" font-weight="normal" fill="#161616" >c</text>
<text x="417.7" y="424.3" font-size="8" text-anchor="middle" font-weight="normal" fill="#161616" >Nonpregnant</text>
<text x="481.1" y="424.3" font-size="8" text-anchor="middle" font-weight="normal" fill="#161616" >Pregnant</text>
<text x="405.6" y="436.2" font-size="7.5" text-anchor="middle" font-weight="normal" fill="#161616" >(11)</text>
<text x="428.5" y="436.2" font-size="7.5" text-anchor="middle" font-weight="normal" fill="#161616" >(9)</text>
<text x="469.7" y="436.2" font-size="7.5" text-anchor="middle" font-weight="normal" fill="#161616" >(7)</text>
<text x="491.7" y="436.2" font-size="7.5" text-anchor="middle" font-weight="normal" fill="#161616" >(6)</text>
<rect x="0" y="0" width="520" height="445" fill="none" stroke="#000" stroke-width="3"/>
</svg>
</body></html>
